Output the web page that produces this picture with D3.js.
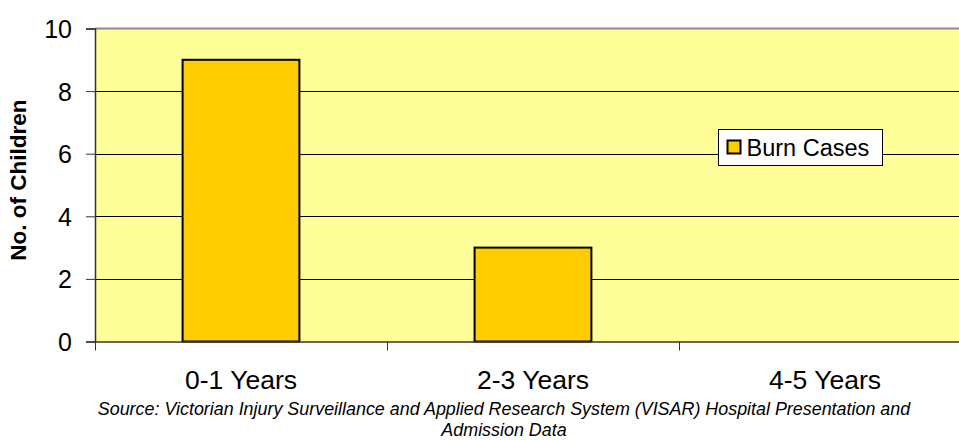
<!DOCTYPE html>
<html>
<head>
<meta charset="utf-8">
<script src="https://cdn.jsdelivr.net/npm/d3@7"></script>
<style>
  html, body { margin: 0; padding: 0; background: #fff; }
  svg { display: block; font-family: "Liberation Sans", Arial, sans-serif; }
</style>
</head>
<body>
<svg id="chart" width="959" height="440"></svg>
<script>
// Burn cases by age group
const categories = ["0-1 Years", "2-3 Years", "4-5 Years"];
const burnCases = [9, 3, 0];
const yTicks = [0, 2, 4, 6, 8, 10];
const seriesName = "Burn Cases";
const yTitle = "No. of Children";
const sourceLines = [
  "Source: Victorian Injury Surveillance and Applied Research System (VISAR) Hospital Presentation and",
  "Admission Data"
];

const svg = d3.select("#chart");
const plot = { left: 95, right: 971, top: 28.5, bottom: 341.5 };

const x = d3.scaleBand().domain(categories).range([plot.left, plot.right]).padding(0);
const y = d3.scaleLinear().domain([0, 10]).range([plot.bottom, plot.top]);

// plot background
svg.append("rect")
  .attr("x", plot.left).attr("y", plot.top)
  .attr("width", plot.right - plot.left).attr("height", plot.bottom - plot.top)
  .attr("fill", "#FFFF99");

// horizontal gridlines
svg.append("g").selectAll("line")
  .data(yTicks.filter(t => t > 0 && t < 10))
  .join("line")
  .attr("x1", plot.left).attr("x2", plot.right)
  .attr("y1", d => Math.round(y(d)) + 0.5).attr("y2", d => Math.round(y(d)) + 0.5)
  .attr("stroke", "#000").attr("stroke-width", 1);

// top frame
svg.append("line")
  .attr("x1", plot.left).attr("x2", plot.right)
  .attr("y1", plot.top).attr("y2", plot.top)
  .attr("stroke", "#8c8c8c").attr("stroke-width", 2);

// bars
const barW = x.bandwidth() * 0.4;
svg.append("g").selectAll("rect")
  .data(categories.map((c, i) => ({ c, v: burnCases[i] })).filter(d => d.v > 0))
  .join("rect")
  .attr("x", d => x(d.c) + (x.bandwidth() - barW) / 2)
  .attr("y", d => y(d.v))
  .attr("width", barW)
  .attr("height", d => y(0) - y(d.v))
  .attr("fill", "#FFCC00")
  .attr("stroke", "#000")
  .attr("stroke-width", 2);

// y axis
const yAxis = d3.axisLeft(y).tickValues(yTicks).tickSize(9).tickPadding(14).tickFormat(d3.format("d"));
const gy = svg.append("g").attr("transform", `translate(${plot.left},0)`).call(yAxis);
gy.select(".domain").attr("stroke", "#333").attr("stroke-width", 1.5);
gy.selectAll(".tick line").attr("stroke", "#333");
gy.selectAll(".tick text")
  .attr("fill", "#000")
  .style("font-size", "25px")
  .style("font-family", "'Liberation Sans', Arial, sans-serif")
  .attr("dy", "0.36em");

// x axis
const xAxis = d3.axisBottom(x).tickSize(0).tickPadding(0);
const gx = svg.append("g").attr("transform", `translate(0,${plot.bottom})`).call(xAxis);
gx.select(".domain").attr("stroke", "#333").attr("stroke-width", 1.5);
gx.selectAll(".tick text")
  .attr("y", 47.5).attr("dy", 0)
  .attr("fill", "#000")
  .style("font-size", "26.5px")
  .style("font-family", "'Liberation Sans', Arial, sans-serif");

// category boundary ticks
const bounds = categories.map(c => x(c)).concat([x(categories[categories.length - 1]) + x.bandwidth()]);
svg.append("g").selectAll("line")
  .data(bounds)
  .join("line")
  .attr("x1", d => Math.round(d) + 0.5).attr("x2", d => Math.round(d) + 0.5)
  .attr("y1", plot.bottom).attr("y2", plot.bottom + 9)
  .attr("stroke", "#333");

// y title
svg.append("text")
  .attr("transform", `translate(26,180) rotate(-90)`)
  .attr("text-anchor", "middle")
  .style("font-size", "22.5px")
  .style("font-weight", "bold")
  .text(yTitle);

// legend
const lg = svg.append("g").attr("transform", "translate(718.5,129.5)");
lg.append("rect").attr("width", 164).attr("height", 36)
  .attr("fill", "#fff").attr("stroke", "#000").attr("stroke-width", 1);
lg.append("rect").attr("x", 9).attr("y", 11).attr("width", 13).attr("height", 13)
  .attr("fill", "#FFCC00").attr("stroke", "#000").attr("stroke-width", 2);
lg.append("text").attr("x", 28).attr("y", 26.5)
  .style("font-size", "23.5px").text(seriesName);

// source note
svg.append("g").selectAll("text")
  .data(sourceLines)
  .join("text")
  .attr("x", 504).attr("y", (d, i) => 415 + i * 21)
  .attr("text-anchor", "middle")
  .style("font-size", "17.9px")
  .style("font-style", "italic")
  .text(d => d);
</script>
</body>
</html>
